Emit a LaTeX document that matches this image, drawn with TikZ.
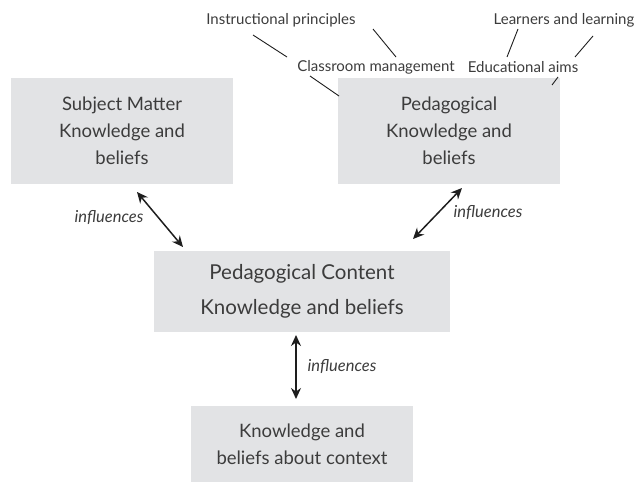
\documentclass[tikz,border=0pt]{standalone}
\usepackage{fontspec}
\setmainfont{Lato}
\usetikzlibrary{arrows.meta}
\definecolor{boxfill}{HTML}{E2E3E5}
\definecolor{txt}{HTML}{3C3C3C}
\definecolor{arr}{HTML}{1E1E1E}
\tikzset{
  box/.style={fill=boxfill, inner sep=0pt, align=center, text=txt},
  bigtext/.style={font=\fontsize{18.5}{27}\selectfont},
  hugetext/.style={font=\fontsize{20.5}{35}\selectfont},
  small/.style={font=\fontsize{15}{16}\selectfont, text=txt, inner sep=0pt},
  infl/.style={font=\fontsize{16.5}{17}\selectfont\itshape, text=txt, inner sep=0pt},
  dbl/.style={{Stealth[length=11pt,width=10pt]}-{Stealth[length=11pt,width=10pt]}, line width=1.5pt, draw=arr},
  leader/.style={line width=0.9pt, draw=arr}
}
\begin{document}
\begin{tikzpicture}[x=1pt,y=-1pt]
\useasboundingbox (0,0) rectangle (639,482);
\node[box,bigtext,minimum width=222pt,minimum height=106pt] (smk) at (122,131) {Subject Matter\\Knowledge and\\beliefs};
\node[box,bigtext,minimum width=222pt,minimum height=106pt] (pk) at (449,131) {Pedagogical\\Knowledge and\\beliefs};
\node[box,hugetext,minimum width=296pt,minimum height=81pt] (pck) at (302,291.5) {Pedagogical Content\\Knowledge and beliefs};
\node[box,bigtext,minimum width=222pt,minimum height=76pt] (ctx) at (302,444) {Knowledge and\\beliefs about context};

\node[small] (ip) at (281,20) {Instructional principles};
\node[small] (ll) at (564,20) {Learners and learning};
\node[small] (cm) at (376,67) {Classroom management};
\node[small] (ea) at (523,67) {Educational aims};

\coordinate (a1) at (253,35); \coordinate (a2) at (287,57);
\coordinate (b1) at (373,29); \coordinate (b2) at (396,57);
\coordinate (c1) at (518,29); \coordinate (c2) at (507,57);
\coordinate (d1) at (593,36); \coordinate (d2) at (575,57);
\coordinate (e1) at (310,76); \coordinate (e2) at (339,96);
\coordinate (f1) at (558,77); \coordinate (f2) at (552,85);
\draw[leader] (a1) -- (a2);
\draw[leader] (b1) -- (b2);
\draw[leader] (c1) -- (c2);
\draw[leader] (d1) -- (d2);
\draw[leader] (e1) -- (e2);
\draw[leader] (f1) -- (f2);

\coordinate (s1) at (137,192); \coordinate (s2) at (183,247);
\coordinate (p1) at (462,188); \coordinate (p2) at (413,239);
\coordinate (k1) at (296,335); \coordinate (k2) at (296,399);
\draw[dbl] (s1) -- (s2);
\draw[dbl] (p1) -- (p2);
\draw[dbl] (k1) -- (k2);
\node[infl] (i1) at (109,218) {influences};
\node[infl] (i2) at (488,213) {influences};
\node[infl] (i3) at (342,367) {influences};
\end{tikzpicture}
\end{document}
